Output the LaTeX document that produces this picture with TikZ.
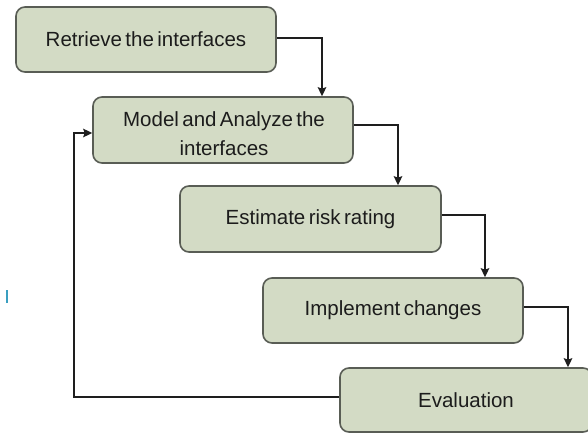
\documentclass[tikz,border=0pt]{standalone}
\usepackage{fontspec}
\setmainfont{Liberation Sans}[WordSpace=0.6]
\usetikzlibrary{arrows.meta,calc}
\definecolor{boxfill}{HTML}{D3DBC5}
\definecolor{boxline}{HTML}{595D55}
\definecolor{linec}{HTML}{1E1E1E}
\definecolor{textc}{HTML}{1C1C1C}
\definecolor{tickc}{HTML}{3A9FC0}
\begin{document}
\begin{tikzpicture}[x=1pt,y=-1pt,
  stepbox/.style={draw=boxline,fill=boxfill,line width=1.6pt,rounded corners=9pt,
    anchor=center,inner sep=0pt,align=center,text=textc,
    font=\fontsize{20.5}{29}\selectfont},
  steptext/.style={anchor=center,inner sep=0pt,align=center,text=textc,
    font=\fontsize{20.5}{29}\selectfont},
  conn/.style={draw=linec,line width=2pt,-{Stealth[length=9pt,width=8.5pt,inset=1.5pt]}},
  plain/.style={draw=linec,line width=2pt}]
\clip (0,0) rectangle (588,433);
\fill[white] (0,0) rectangle (588,433);
\node[stepbox,minimum width=260pt,minimum height=65pt] (b1) at (146,39.5) {Retrieve the interfaces};
\node[stepbox,minimum width=260pt,minimum height=66pt] (b2) at (223,130) {};
\node[steptext] (b2t) at (224,134) {Model and Analyze the\\interfaces};
\node[stepbox,minimum width=261pt,minimum height=66pt] (b3) at (310.5,219) {Estimate risk rating};
\node[stepbox,minimum width=260pt,minimum height=65pt] (b4) at (393,310.5) {Implement changes};
\node[stepbox,minimum width=252pt,minimum height=64pt] (b5) at (466,400) {Evaluation};
\coordinate (c1) at (322,0);
\coordinate (c2) at (398,0);
\coordinate (c3) at (485,0);
\coordinate (c4) at (568,0);
\coordinate (fb) at (74,0);
\draw[conn] ([yshift=1.5pt]b1.east) -| (c1 |- b2.north);
\draw[conn] ([yshift=5pt]b2.east) -| (c2 |- b3.north);
\draw[conn] ([yshift=4pt]b3.east) -| (c3 |- b4.north);
\draw[conn] ([yshift=3.5pt]b4.east) -| (c4 |- b5.north);
\draw[conn] ([yshift=3pt]b5.west) -| (fb |- b2.south) |- ([yshift=-3pt]b2.west);
\draw[tickc,line width=2pt] (7,290) -- (7,303);
\end{tikzpicture}
\end{document}
